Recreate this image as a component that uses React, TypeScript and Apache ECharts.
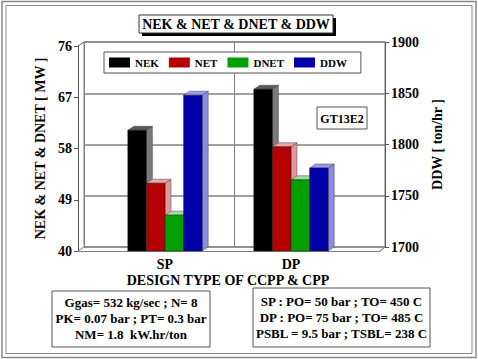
import React, { useEffect, useRef } from 'react';
import * as echarts from 'echarts';

const categories = ['SP', 'DP'];
const nekValues = [61.2, 68.4];
const netValues = [51.9, 58.3];
const dnetValues = [46.3, 52.5];
const ddwValues = [1852, 1781];
const seriesNames = ['NEK', 'NET', 'DNET', 'DDW'];
const leftMin = 40, leftMax = 76, leftInterval = 9;
const rightMin = 1700, rightMax = 1900, rightInterval = 50;
const chartTitle = 'NEK & NET & DNET & DDW';
const xAxisTitle = 'DESIGN TYPE OF CCPP & CPP';
const leftAxisTitle = 'NEK & NET & DNET [ MW ]';
const rightAxisTitle = 'DDW [ ton/hr ]';
const tagText = 'GT13E2';
const noteLeft = ['Ggas= 532 kg/sec ; N= 8', 'PK= 0.07 bar ; PT= 0.3 bar', 'NM= 1.8  kW.hr/ton'];
const noteRight = ['SP : PO= 50 bar ; TO= 450 C', 'DP : PO= 75 bar ; TO= 485 C', 'PSBL = 9.5 bar ; TSBL= 238 C'];

const FONT = '"Liberation Serif", "Times New Roman", serif';
const frontColors = ['#000000', '#b40000', '#00a000', '#0000a8'];
const sideColors = ['#7a7a7a', '#e09a9a', '#86d486', '#8c8ce6'];
const topColors = ['#5a5a5a', '#e8a8a8', '#9ee09e', '#9a9aee'];

export default function App() {
  const ref = useRef<HTMLDivElement>(null);
  useEffect(() => {
    if (!ref.current) return;
    const chart = echarts.init(ref.current, null, { renderer: 'svg' });
    const allValues = [nekValues, netValues, dnetValues, ddwValues];
    const BW = 18.6, DX = 6, DY = 4;
    const makeRender = (i: number) => (params: any, api: any) => {
      const cat = api.value(0);
      const val = api.value(1);
      const topPt = api.coord([cat, val]);
      const basePt = api.coord([cat, i === 3 ? rightMin : leftMin]);
      const l = topPt[0] + (i - 2) * BW;
      const r = l + BW;
      const t = topPt[1];
      const b = basePt[1];
      return {
        type: 'group',
        children: [
          { type: 'polygon', shape: { points: [[r, t], [r + DX, t - DY], [r + DX, b - DY], [r, b]] }, style: { fill: sideColors[i], stroke: '#444', lineWidth: 0.5 } },
          { type: 'polygon', shape: { points: [[l, t], [l + DX, t - DY], [r + DX, t - DY], [r, t]] }, style: { fill: topColors[i], stroke: '#444', lineWidth: 0.5 } },
          { type: 'rect', shape: { x: l, y: t, width: BW, height: b - t }, style: { fill: frontColors[i], stroke: '#222', lineWidth: 0.5 } },
        ],
      };
    };
    const textStyleBase = { fontFamily: FONT, fontWeight: 'bold' as const, color: '#000' };
    const noteText = (lines: string[], cx: number, y0: number) =>
      lines.map((s, k) => ({
        type: 'text', x: cx, y: y0 + k * 16,
        style: { text: s, fontFamily: FONT, fontWeight: 'bold', fontSize: 13, fill: '#000', textAlign: 'center', textVerticalAlign: 'middle' },
      }));
    const option: any = {
      animation: false,
      backgroundColor: '#fff',
      textStyle: { fontFamily: FONT },
      grid: [
        { left: 84, top: 42, width: 301, height: 205, show: true, backgroundColor: '#fff', borderColor: '#808080', borderWidth: 1, outerBoundsMode: 'none' },
        { left: 78, top: 46, width: 302, height: 205, outerBoundsMode: 'none' },
        { left: 102, top: 46, width: 252, height: 205, outerBoundsMode: 'none' },
      ],
      xAxis: [
        { gridIndex: 0, type: 'category', data: categories, axisLine: { show: false }, axisTick: { show: false }, axisLabel: { show: false }, splitLine: { show: true, lineStyle: { color: '#808080', width: 1 } } },
        { gridIndex: 1, type: 'value', min: 0, max: 1, axisLine: { show: true, lineStyle: { color: '#808080', width: 1 } }, axisTick: { show: false }, axisLabel: { show: false }, splitLine: { show: false } },
        { gridIndex: 2, type: 'category', data: categories, axisLine: { show: false }, axisTick: { show: false }, splitLine: { show: false },
          axisLabel: { ...textStyleBase, fontSize: 14, margin: 6 } },
      ],
      yAxis: [
        { gridIndex: 0, type: 'value', position: 'right', min: rightMin, max: rightMax, interval: rightInterval,
          axisLine: { show: true, lineStyle: { color: '#555', width: 1 } }, axisTick: { show: true, length: 4, lineStyle: { color: '#555' } },
          axisLabel: { ...textStyleBase, fontSize: 14, margin: 6, formatter: (v: number) => String(v) },
          splitLine: { show: true, lineStyle: { color: '#808080', width: 1.5 } },
          name: rightAxisTitle, nameLocation: 'middle', nameRotate: 90, nameGap: 45, nameTextStyle: { ...textStyleBase, fontSize: 14 } },
        { gridIndex: 1, type: 'value', position: 'left', min: leftMin, max: leftMax, interval: leftInterval,
          axisLine: { show: true, lineStyle: { color: '#555', width: 1 } }, axisTick: { show: true, length: 4, lineStyle: { color: '#555' } },
          axisLabel: { ...textStyleBase, fontSize: 14, margin: 6, formatter: (v: number) => String(v) },
          splitLine: { show: false },
          name: leftAxisTitle, nameLocation: 'middle', nameRotate: 90, nameGap: 31, nameTextStyle: { ...textStyleBase, fontSize: 14 } },
        { gridIndex: 2, type: 'value', min: leftMin, max: leftMax, interval: leftInterval, show: false },
        { gridIndex: 2, type: 'value', min: rightMin, max: rightMax, interval: rightInterval, show: false },
      ],
      legend: {
        left: 104, top: 52, orient: 'horizontal',
        padding: [5, 14, 5, 5], itemGap: 10, itemWidth: 21, itemHeight: 10,
        backgroundColor: '#fff', borderColor: '#555', borderWidth: 1,
        textStyle: { ...textStyleBase, fontSize: 11 },
        selectedMode: false,
        data: seriesNames.map((n, i) => ({ name: n, icon: 'rect', itemStyle: { color: frontColors[i], borderWidth: 0 } })),
      },
      series: seriesNames.map((n, i) => ({
        name: n,
        type: 'custom',
        coordinateSystem: 'cartesian2d',
        xAxisIndex: 2,
        yAxisIndex: i === 3 ? 3 : 2,
        itemStyle: { color: frontColors[i] },
        renderItem: makeRender(i),
        encode: { x: 0, y: 1 },
        data: categories.map((c, k) => [k, allValues[i][k]]),
        z: 2 + i,
      })),
      graphic: [
        { type: 'rect', shape: { x: 2, y: 1.5, width: 474, height: 356 }, style: { fill: 'none', stroke: '#888', lineWidth: 1.5 }, silent: true },
        { type: 'rect', shape: { x: 6, y: 5.5, width: 466, height: 348 }, style: { fill: 'none', stroke: '#888', lineWidth: 1 }, silent: true },
        { type: 'line', shape: { x1: 78, y1: 46, x2: 84, y2: 42 }, style: { stroke: '#555', lineWidth: 1 } },
        { type: 'line', shape: { x1: 78, y1: 251, x2: 84, y2: 247 }, style: { stroke: '#808080', lineWidth: 1 } },
        { type: 'line', shape: { x1: 380, y1: 251, x2: 385, y2: 247 }, style: { stroke: '#555', lineWidth: 1 } },
        { type: 'rect', shape: { x: 142, y: 18, width: 194, height: 18 }, style: { fill: '#000' } },
        { type: 'rect', shape: { x: 139, y: 15, width: 194, height: 18 }, style: { fill: '#fff', stroke: '#333', lineWidth: 1 } },
        { type: 'text', x: 236, y: 24.5, style: { text: chartTitle, fontFamily: FONT, fontWeight: 'bold', fontSize: 14, fill: '#000', textAlign: 'center', textVerticalAlign: 'middle' } },
        { type: 'rect', shape: { x: 317, y: 107, width: 50, height: 22 }, style: { fill: '#fff', stroke: '#555', lineWidth: 1 }, z: 10 },
        { type: 'text', x: 342, y: 118.5, z: 11, style: { text: tagText, fontFamily: FONT, fontWeight: 'bold', fontSize: 12, fill: '#000', textAlign: 'center', textVerticalAlign: 'middle' } },
        { type: 'text', x: 228, y: 280, style: { text: xAxisTitle, fontFamily: FONT, fontWeight: 'bold', fontSize: 14, fill: '#000', textAlign: 'center', textVerticalAlign: 'middle' } },
        { type: 'rect', shape: { x: 52, y: 291, width: 158, height: 56 }, style: { fill: '#fff', stroke: '#555', lineWidth: 1 } },
        { type: 'rect', shape: { x: 253, y: 288, width: 177, height: 59 }, style: { fill: '#fff', stroke: '#555', lineWidth: 1 } },
        ...noteText(noteLeft, 131, 302),
        ...noteText(noteRight, 341.5, 301),
      ],
    };
    chart.setOption(option);
    return () => chart.dispose();
  }, []);
  return <div ref={ref} style={{ position: 'absolute', left: 0, top: 0, width: 478, height: 359 }} />;
}
